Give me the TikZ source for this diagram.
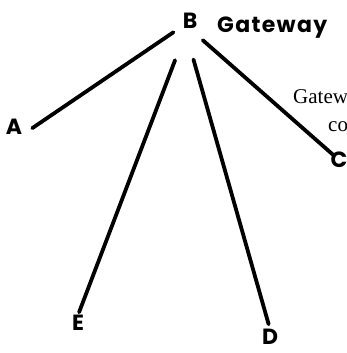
\documentclass[tikz,border=0pt]{standalone}
\usepackage{fontspec}
\setmainfont{Liberation Serif}
\newfontfamily\lblfont{Poppins}
\newfontfamily\gwfont[LetterSpace=6]{Poppins}
\usetikzlibrary{positioning}

\begin{document}
\begin{tikzpicture}[
            x=1pt, y=-1pt,
            every node/.style={inner sep=0pt},
            host/.style={font=\lblfont\bfseries\fontsize{22}{22}\selectfont},
            link/.style={line width=3.8pt, line cap=round},
            note/.style={font=\fontsize{21}{21}\selectfont, anchor=base west}
        ]
        \useasboundingbox (0,0) rectangle (347,353);

        %================================================
        % Hosts
        %================================================
        \node[host] (B) at (190,21) {B};
        \node[host, anchor=base west] (gw) at (217,33) {\gwfont Gateway};
        \node[host] (A) at (14,127) {A};
        \node[host] (C) at (339,160) {C};
        \node[host] (E) at (78,323) {E};
        \node[host] (D) at (270,337) {D};

        %================================================
        % Links out of the gateway
        %================================================
        \draw[link, shorten <=20pt, shorten >=12pt] (B.center) -- (A.south east);
        \draw[link, shorten <=42pt, shorten >=3pt] (B.center) -- (E.north);
        \draw[link, shorten <=40pt, shorten >=5pt] (B.west) -- (D.north);
        \draw[link, shorten <=17pt, shorten >=7pt] (B.south) -- (C.center);

        % cut-off text at the right edge
        \node[note] (t1) at (293,103) {Gatew};
        \node[note] (t2) at (328,131) {co};

        \end{tikzpicture}
\end{document}
